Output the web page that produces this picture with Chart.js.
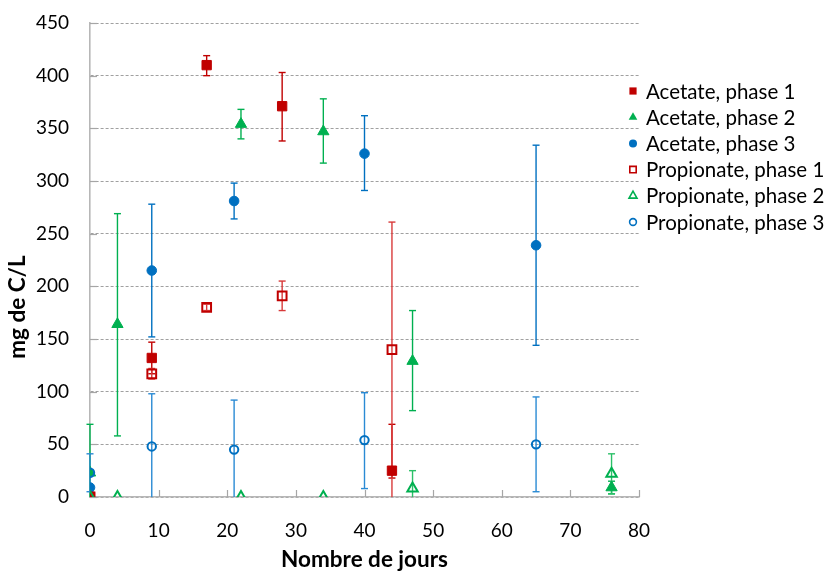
<!DOCTYPE html>
<html><head><meta charset="utf-8">
<script src="https://cdn.jsdelivr.net/npm/chart.js@4.4.1/dist/chart.umd.min.js"></script>
<style>html,body{margin:0;padding:0;background:#fff}</style>
</head><body>
<canvas id="c" width="825" height="573"></canvas>
<script>
// ---- Data ----
const seriesNames = ['Acetate, phase 1','Acetate, phase 2','Acetate, phase 3','Propionate, phase 1','Propionate, phase 2','Propionate, phase 3'];

const acetate1Days = [0, 9, 17, 28, 44];
const acetate1     = [0, 132, 410, 371, 25];
const acetate1Low  = [0, 117, 400, 338, 18];
const acetate1High = [0, 147, 419, 403, 69];

const acetate2Days = [0, 4, 22, 34, 47, 76];
const acetate2     = [23, 164, 354, 347, 129, 9];
const acetate2Low  = [0, 58, 340, 317, 82, 3];
const acetate2High = [69, 269, 368, 378, 177, 15];

const acetate3Days = [0, 9, 21, 40, 65];
const acetate3     = [9, 215, 281, 326, 239];
const acetate3Low  = [9, 152, 264, 291, 144];
const acetate3High = [9, 278, 298, 362, 334];

const propionate1Days = [0, 9, 17, 28, 44];
const propionate1     = [0, 117, 180, 191, 140];
const propionate1Low  = [0, 112, 177, 177, 0];
const propionate1High = [0, 122, 183, 205, 261];

const propionate2Days = [0, 4, 22, 34, 47, 76];
const propionate2     = [0, 0, 0, 0, 8, 22];
const propionate2Low  = [0, 0, 0, 0, 0, 3];
const propionate2High = [0, 0, 0, 0, 25, 41];

const propionate3Days = [0, 9, 21, 40, 65];
const propionate3     = [23, 48, 45, 54, 50];
const propionate3Low  = [5, 0, 0, 8, 5];
const propionate3High = [41, 98, 92, 99, 95];

const yTicks = [0, 50, 100, 150, 200, 250, 300, 350, 400, 450];
const xTicks = [0, 10, 20, 30, 40, 50, 60, 70, 80];
const yTitle = 'mg de C/L';
const xTitle = 'Nombre de jours';

// ---- Styles ----
const RED = '#C00000', GREEN = '#00B050', BLUE = '#0070C0';
const FONT = 'Lato';

function pts(days, vals) { return days.map((d, i) => ({x: d, y: vals[i]})); }

const styles = [
  {color: RED,   style: 'rect',     filled: true,  r: 6.6, err: RED},
  {color: GREEN, style: 'triangle', filled: true,  r: 6.5, err: GREEN},
  {color: BLUE,  style: 'circle',   filled: true,  r: 4.8, err: BLUE},
  {color: RED,   style: 'rect',     filled: false, r: 6.2, err: '#D83a3a'},
  {color: GREEN, style: 'triangle', filled: false, r: 6.0, err: '#2CC068'},
  {color: BLUE,  style: 'circle',   filled: false, r: 4.2, err: '#2A8AD4'}
];
const dataSets = [
  [acetate1Days, acetate1, acetate1Low, acetate1High],
  [acetate2Days, acetate2, acetate2Low, acetate2High],
  [acetate3Days, acetate3, acetate3Low, acetate3High],
  [propionate1Days, propionate1, propionate1Low, propionate1High],
  [propionate2Days, propionate2, propionate2Low, propionate2High],
  [propionate3Days, propionate3, propionate3Low, propionate3High]
];

const datasets = dataSets.map((d, i) => {
  const s = styles[i];
  return {
    label: seriesNames[i],
    data: pts(d[0], d[1]),
    errLow: d[2], errHigh: d[3], errColor: s.err,
    pointStyle: s.style,
    pointRadius: s.r,
    pointHoverRadius: s.r,
    backgroundColor: s.filled ? s.color : 'rgba(0,0,0,0)',
    borderColor: s.color,
    pointBorderWidth: s.filled ? 1 : 2,
    showLine: false,
    order: 6 - i
  };
});

// Error bars + inside tick marks (drawn under markers)
const errorBars = {
  id: 'errorBars',
  beforeDatasetsDraw(chart) {
    const ctx = chart.ctx, xs = chart.scales.x, ys = chart.scales.y, area = chart.chartArea;
    ctx.save();
    ctx.strokeStyle = '#A6A6A6';
    ctx.lineWidth = 1.2;
    xTicks.forEach(v => {
      if (v === 0) return;
      const px = Math.round(xs.getPixelForValue(v)) + 0.5;
      ctx.beginPath(); ctx.moveTo(px, area.bottom); ctx.lineTo(px, area.bottom - 7); ctx.stroke();
    });
    yTicks.forEach(v => {
      const py = Math.round(ys.getPixelForValue(v)) + 0.5;
      ctx.beginPath(); ctx.moveTo(area.left, py); ctx.lineTo(area.left + 7, py); ctx.stroke();
    });
    for (let i = 0; i < chart.data.datasets.length; i++) {
      const ds = chart.data.datasets[i];
      ctx.strokeStyle = ds.errColor;
      ctx.lineWidth = 1.4;
      ds.data.forEach((p, j) => {
        const lo = ds.errLow[j], hi = ds.errHigh[j];
        if (lo === p.y && hi === p.y) return;
        const px = xs.getPixelForValue(p.x);
        let yl = ys.getPixelForValue(lo), yh = ys.getPixelForValue(hi);
        const lowClipped = yl >= area.bottom - 0.5;
        yl = Math.min(yl, area.bottom);
        ctx.beginPath(); ctx.moveTo(px, yl); ctx.lineTo(px, yh); ctx.stroke();
        ctx.beginPath(); ctx.moveTo(px - 3.5, yh); ctx.lineTo(px + 3.5, yh); ctx.stroke();
        if (!lowClipped) { ctx.beginPath(); ctx.moveTo(px - 3.5, yl); ctx.lineTo(px + 3.5, yl); ctx.stroke(); }
      });
    }
    ctx.restore();
  }
};

// Legend + y title drawn at the reference positions
const sideLegend = {
  id: 'sideLegend',
  afterDraw(chart) {
    const ctx = chart.ctx;
    ctx.save();
    const x0 = 633, y0 = 91, step = 26.2;
    chart.data.datasets.forEach((ds, i) => {
      const y = y0 + i * step;
      const s = styles[i];
      ctx.beginPath();
      if (s.style === 'rect') {
        const h = s.filled ? 3.6 : 3.2;
        ctx.rect(x0 - h, y - h, 2 * h, 2 * h);
      } else if (s.style === 'triangle') {
        const r = s.filled ? 5 : 4.6;
        ctx.moveTo(x0, y - r);
        ctx.lineTo(x0 + r * 0.866, y + r / 2);
        ctx.lineTo(x0 - r * 0.866, y + r / 2);
        ctx.closePath();
      } else {
        ctx.arc(x0, y, s.filled ? 4 : 3.4, 0, Math.PI * 2);
      }
      if (s.filled) { ctx.fillStyle = s.color; ctx.fill(); }
      else { ctx.strokeStyle = s.color; ctx.lineWidth = 1.6; ctx.stroke(); }
      ctx.fillStyle = '#000';
      ctx.font = '20.5px ' + FONT;
      ctx.textBaseline = 'middle';
      ctx.textAlign = 'left';
      ctx.fillText(ds.label, 646, y + 1);
    });
    ctx.translate(18, 307);
    ctx.rotate(-Math.PI / 2);
    ctx.font = 'bold 22.5px ' + FONT;
    ctx.textAlign = 'center';
    ctx.textBaseline = 'middle';
    ctx.fillText(yTitle, 0, 0);
    ctx.restore();
  }
};

new Chart(document.getElementById('c'), {
  type: 'scatter',
  data: {datasets},
  plugins: [errorBars, sideLegend],
  options: {
    responsive: false,
    animation: false,
    devicePixelRatio: 1,
    layout: {padding: {top: 23, right: 186, left: 0, bottom: 0}},
    plugins: {legend: {display: false}, tooltip: {enabled: false}},
    scales: {
      x: {
        type: 'linear', min: 0, max: 80,
        afterBuildTicks(s) { s.ticks = xTicks.map(v => ({value: v})); },
        afterFit(s) { s.height = 76; },
        grid: {display: false, drawTicks: false},
        border: {display: true, color: '#B7B7B7', width: 1.6},
        ticks: {padding: 22, color: '#000', font: {family: FONT, size: 19}, maxRotation: 0},
        title: {display: true, text: xTitle, color: '#000',
                font: {family: FONT, size: 22.5, weight: 'bold'}, padding: {top: 0, bottom: 0}}
      },
      y: {
        type: 'linear', min: 0, max: 450,
        afterBuildTicks(s) { s.ticks = yTicks.map(v => ({value: v})); },
        afterFit(s) { s.width = 90; s.paddingTop = 0; s.paddingBottom = 0; },
        grid: {color: '#A0A0A0', lineWidth: 1, drawTicks: false},
        border: {display: true, color: '#B7B7B7', width: 1.6, dash: [3, 2]},
        ticks: {padding: 21, color: '#000', font: {family: FONT, size: 19}},
        title: {display: false}
      }
    }
  }
});
</script>
</body></html>
